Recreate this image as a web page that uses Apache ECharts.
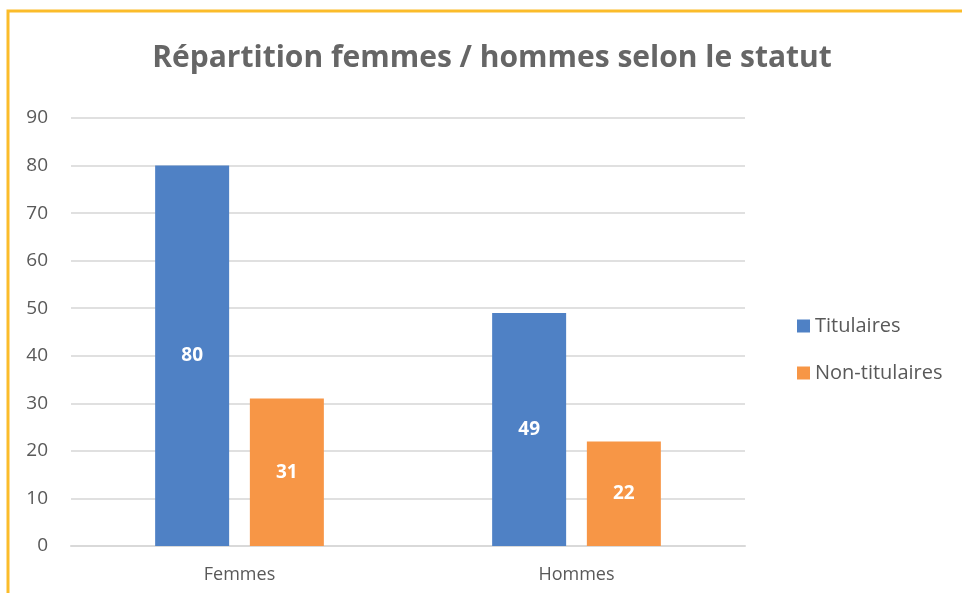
<!DOCTYPE html>
<html>
<head>
<meta charset="utf-8">
<script src="https://cdn.jsdelivr.net/npm/echarts@6/dist/echarts.min.js"></script>
<style>
  html, body { margin: 0; padding: 0; background: #fff; }
  #chart { width: 962px; height: 593px; }
</style>
</head>
<body>
<div id="chart"></div>
<script>
// données
var categories = ['Femmes', 'Hommes'];
var titulaires = [80, 49];
var nonTitulaires = [31, 22];

var chart = echarts.init(document.getElementById('chart'));
var police = '"Open Sans", "Noto Sans", sans-serif';
var labelInterne = {
  show: true,
  position: 'inside',
  color: '#fff',
  fontWeight: 'bold',
  fontSize: 19,
  fontFamily: police
};

var option = {
  animation: false,
  color: ['#4F81C5', '#F79646'],
  title: {
    text: 'Répartition femmes / hommes selon le statut',
    left: 487,
    textAlign: 'center',
    top: 38,
    textStyle: { color: '#666', fontSize: 30, fontWeight: 'bold', fontFamily: police }
  },
  graphic: [{
    type: 'rect',
    shape: { x: 8, y: 11, width: 1000, height: 700 },
    style: { fill: 'none', stroke: '#FBBC2A', lineWidth: 3 },
    silent: true
  }],
  legend: {
    orient: 'vertical',
    left: 792,
    top: 311,
    itemWidth: 13,
    itemHeight: 13,
    itemGap: 27,
    icon: 'rect',
    textStyle: { color: '#595959', fontSize: 20, fontFamily: police }
  },
  grid: { left: 71, right: 217, top: 118, bottom: 47 },
  xAxis: {
    type: 'category',
    data: categories,
    axisTick: { show: false },
    axisLine: { lineStyle: { color: '#d9d9d9', width: 2 } },
    axisLabel: { color: '#595959', fontSize: 18, margin: 20, fontFamily: police }
  },
  yAxis: {
    type: 'value',
    min: 0,
    max: 90,
    interval: 10,
    axisLine: { show: false },
    axisTick: { show: false },
    axisLabel: { color: '#595959', fontSize: 19, margin: 23, fontFamily: police },
    splitLine: { lineStyle: { color: '#e0e0e0', width: 2 } }
  },
  series: [{
    name: 'Titulaires',
    type: 'bar',
    data: titulaires,
    barWidth: 74,
    barGap: '28%',
    label: labelInterne
  }, {
    name: 'Non-titulaires',
    type: 'bar',
    data: nonTitulaires,
    barWidth: 74,
    label: labelInterne
  }]
};
chart.setOption(option);
</script>
</body>
</html>
